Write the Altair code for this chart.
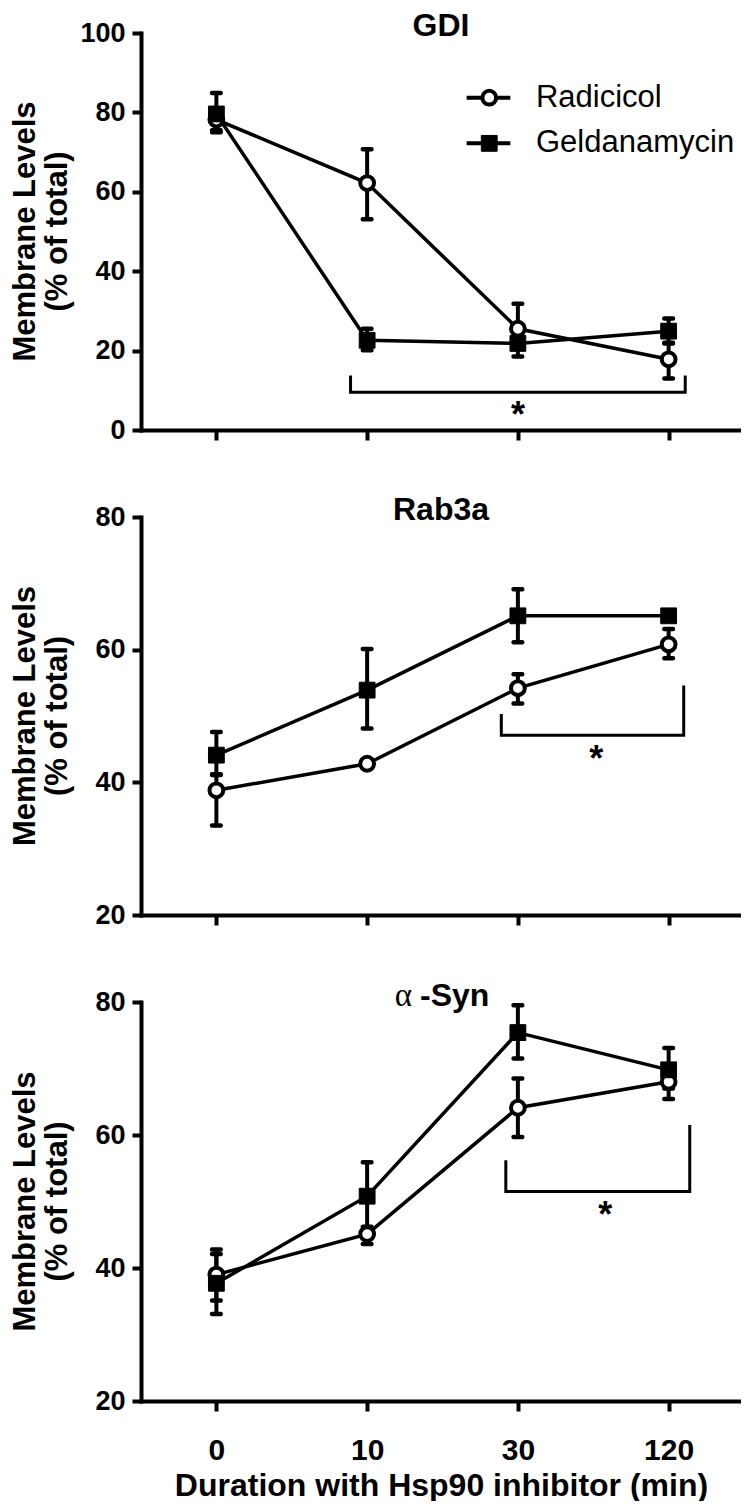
import altair as alt
import pandas as pd

# ---------------- data ----------------
times = ["0", "10", "30", "120"]
series = ["Radicicol", "Geldanamycin"]
panel_titles = ["GDI", "Rab3a", "α-Syn"]
x_title = "Duration with Hsp90 inhibitor (min)"
y_title = ["Membrane Levels", "(% of total)"]

gdi_rad = [78.2, 62.2, 25.5, 17.8]
gdi_rad_lo = [75.0, 53.1, 20.5, 13.0]
gdi_rad_hi = [81.0, 70.7, 31.8, 22.0]
gdi_gel = [79.6, 22.6, 21.8, 24.9]
gdi_gel_lo = [75.5, 20.1, 18.5, 21.8]
gdi_gel_hi = [84.9, 25.5, 24.8, 28.1]

rab_rad = [38.8, 42.8, 54.2, 60.8]
rab_rad_lo = [33.5, 42.2, 51.9, 58.7]
rab_rad_hi = [41.2, 43.4, 56.3, 63.1]
rab_gel = [44.1, 53.9, 65.1, 65.1]
rab_gel_lo = [41.1, 48.1, 61.1, 65.1]
rab_gel_hi = [47.6, 60.1, 69.1, 65.1]

syn_rad = [39.0, 45.1, 64.1, 68.0]
syn_rad_lo = [35.1, 43.6, 59.7, 65.4]
syn_rad_hi = [42.8, 46.2, 68.5, 70.5]
syn_gel = [37.7, 50.8, 75.4, 69.8]
syn_gel_lo = [33.1, 45.4, 71.5, 67.0]
syn_gel_hi = [42.1, 55.9, 79.5, 73.1]

# significance brackets: x_left, x_right, y_left_top, y_right_top, y_bar, star_x, star_y
gdi_bracket = [0.89, 3.11, 13.7, 13.7, 9.5, 2.0, 5.9]
rab_bracket = [1.89, 3.10, 50.3, 54.6, 47.1, 2.52, 44.7]
syn_bracket = [1.92, 3.14, 56.2, 61.5, 51.5, 2.58, 49.2]

# ---------------- styling ----------------
FONT = "Liberation Sans"
W = 600
XDOM = [-0.5, 3.48]
label_expr = "[" + ",".join("'%s'" % t for t in times) + "][datum.value]"


def build_df(rad, rlo, rhi, gel, glo, ghi):
    rows = []
    for name, v, lo, hi in [(series[0], rad, rlo, rhi), (series[1], gel, glo, ghi)]:
        for i, t in enumerate(times):
            rows.append({"i": i, "time": t, "series": name, "v": v[i], "lo": lo[i], "hi": hi[i]})
    return pd.DataFrame(rows)


def text_layer(txt, x, y, **kw):
    style = dict(font=FONT, color="black")
    style.update(kw)
    return alt.Chart(pd.DataFrame({"t": [txt]})).mark_text(**style).encode(
        x=alt.value(x), y=alt.value(y), text="t:N")


def panel(df, ydom, yvals, h, br, bottom=False, legend=False, title=""):
    xaxis_kw = dict(values=[0, 1, 2, 3], labelExpr=label_expr, tickSize=10,
                    labelFontSize=30, labelPadding=24)
    if bottom:
        xaxis_kw.update(title=x_title, titleFontSize=32, titlePadding=5)
    else:
        xaxis_kw.update(labels=False, title="")
    xscale = alt.Scale(domain=XDOM, nice=False, zero=False)
    yscale = alt.Scale(domain=ydom, nice=False, zero=False)
    yaxis = alt.Axis(values=yvals, title="", tickSize=9, labelFontSize=27, labelPadding=7)

    def X(f):
        return alt.X(f + ":Q", scale=xscale, axis=alt.Axis(**xaxis_kw), title=xaxis_kw["title"])

    def Y(f):
        return alt.Y(f + ":Q", scale=yscale, axis=yaxis, title="")

    base = alt.Chart(df)
    rules = base.mark_rule(color="black", strokeWidth=4).encode(x=X("i"), y=Y("lo"), y2="hi:Q")
    cap_hi = base.mark_tick(orient="horizontal", color="black", size=13, thickness=4.5,
                            cornerRadius=2, opacity=1).encode(x=X("i"), y=Y("hi"))
    cap_lo = base.mark_tick(orient="horizontal", color="black", size=13, thickness=4.5,
                            cornerRadius=2, opacity=1).encode(x=X("i"), y=Y("lo"))
    lines = base.mark_line(color="black", strokeWidth=3.5).encode(
        x=X("i"), y=Y("v"), detail="series:N")
    pts_r = base.transform_filter(alt.datum.series == series[0]).mark_point(
        shape="circle", filled=True, fill="white", stroke="black", strokeWidth=4,
        size=190, opacity=1).encode(x=X("i"), y=Y("v"))
    pts_g = base.transform_filter(alt.datum.series == series[1]).mark_point(
        shape="square", filled=True, fill="black", stroke="black", strokeWidth=1,
        size=250, opacity=1).encode(x=X("i"), y=Y("v"))

    xl, xr, ylt, yrt, ybar, sx, sy = br
    br_df = pd.DataFrame({"bx": [xl, xl, xr, xr], "by": [ylt, ybar, ybar, yrt], "o": [0, 1, 2, 3]})
    bracket = alt.Chart(br_df).mark_line(color="black", strokeWidth=3, strokeJoin="miter").encode(
        x=X("bx"), y=Y("by"), order="o:O")
    star = alt.Chart(pd.DataFrame({"sx": [sx], "sy": [sy], "txt": ["*"]})).mark_text(
        font=FONT, fontSize=36, fontWeight="bold", color="black", baseline="alphabetic", dy=20
    ).encode(x=X("sx"), y=Y("sy"), text="txt:N")

    layers = [rules, cap_hi, cap_lo, lines, pts_r, pts_g, bracket, star]

    # y-axis title (two lines, rotated)
    layers.append(text_layer(y_title[0], -115, h / 2, fontSize=31, fontWeight="bold",
                             angle=270, align="center", baseline="middle"))
    layers.append(text_layer(y_title[1], -83, h / 2, fontSize=31, fontWeight="bold",
                             angle=270, align="center", baseline="middle"))

    # panel title
    if title.startswith("α"):
        layers.append(text_layer(title[0], W / 2 - 29, -6, font="Liberation Serif",
                                 fontSize=33, align="right", baseline="middle"))
        layers.append(text_layer(title[1:], W / 2 - 21, -6, fontSize=32, fontWeight="bold",
                                 align="left", baseline="middle"))
    else:
        ty = -7
        layers.append(text_layer(title, W / 2, ty, fontSize=32, fontWeight="bold",
                                 align="center", baseline="middle"))

    if legend:
        leg = pd.DataFrame({"series": series, "ly": [83.7, 72.2]})
        leg["x0"] = 1.66
        leg["x1"] = 1.95
        leg["xs"] = 1.81
        leg["xt"] = 2.12
        lbase = alt.Chart(leg)
        lrule = lbase.mark_rule(color="black", strokeWidth=4).encode(
            x=X("x0"), x2="x1:Q", y=Y("ly"))
        lr = lbase.transform_filter(alt.datum.series == series[0]).mark_point(
            shape="circle", filled=True, fill="white", stroke="black", strokeWidth=4,
            size=190, opacity=1).encode(x=X("xs"), y=Y("ly"))
        lg = lbase.transform_filter(alt.datum.series == series[1]).mark_point(
            shape="square", filled=True, fill="black", stroke="black", strokeWidth=1,
            size=250, opacity=1).encode(x=X("xs"), y=Y("ly"))
        ltxt = lbase.mark_text(font=FONT, fontSize=31, color="black", align="left",
                               baseline="middle").encode(x=X("xt"), y=Y("ly"), text="series:N")
        layers += [lrule, lr, lg, ltxt]

    return alt.layer(*layers).properties(width=W, height=h)


top = panel(build_df(gdi_rad, gdi_rad_lo, gdi_rad_hi, gdi_gel, gdi_gel_lo, gdi_gel_hi),
            [0, 100], [0, 20, 40, 60, 80, 100], 397, gdi_bracket, legend=True, title=panel_titles[0])
mid = panel(build_df(rab_rad, rab_rad_lo, rab_rad_hi, rab_gel, rab_gel_lo, rab_gel_hi),
            [20, 80], [20, 40, 60, 80], 398, rab_bracket, title=panel_titles[1])
bot = panel(build_df(syn_rad, syn_rad_lo, syn_rad_hi, syn_gel, syn_gel_lo, syn_gel_hi),
            [20, 80], [20, 40, 60, 80], 399, syn_bracket, bottom=True, title=panel_titles[2])

chart = alt.vconcat(top, mid, bot, spacing=87, bounds="flush").properties(
    padding={"left": 2, "top": 2, "right": 0, "bottom": 0}, background="white"
).configure_view(stroke=None).configure_axis(
    grid=False, domainColor="black", domainWidth=4, domainCap="square",
    tickColor="black", tickWidth=4,
    labelFont=FONT, labelFontWeight="bold", labelColor="black",
    titleFont=FONT, titleFontWeight="bold", titleColor="black",
)

chart.save("out.html", embed_options={"renderer": "svg", "actions": False})
